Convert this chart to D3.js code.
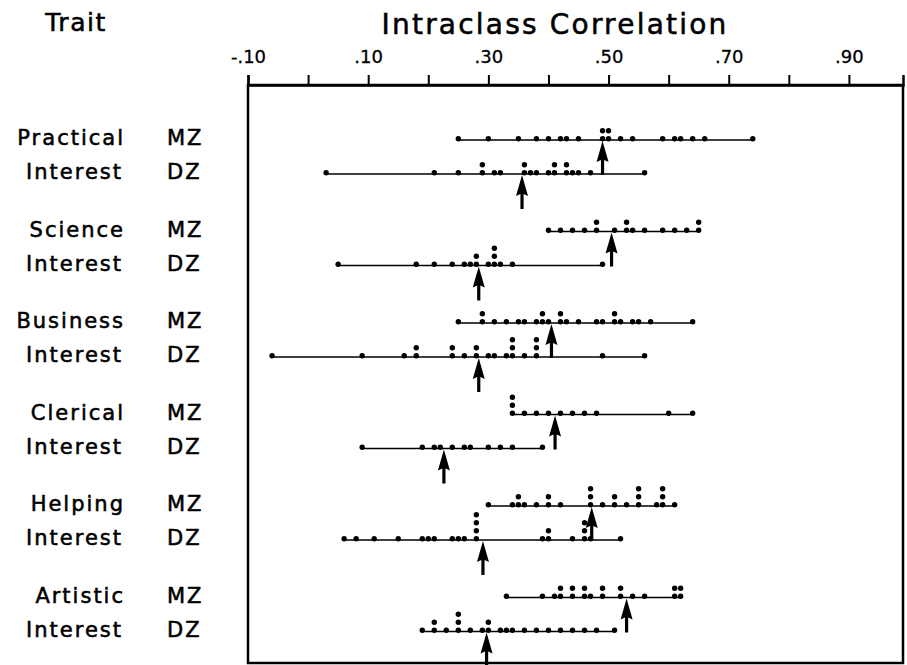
<!DOCTYPE html>
<html><head><meta charset="utf-8">
<script src="https://cdn.jsdelivr.net/npm/d3@7/dist/d3.min.js"></script>
<style>body{margin:0;background:#fff}svg{display:block}</style>
</head><body><svg id="c" width="907" height="665"></svg>
<script>
const traits = ["Practical", "Science", "Business", "Clerical", "Helping", "Artistic"];
const groups = ["MZ", "DZ"];
const tickValues = [-0.1, 0, 0.1, 0.2, 0.3, 0.4, 0.5, 0.6, 0.7, 0.8, 0.9];
const tickLabels = ["-.10", "", ".10", "", ".30", "", ".50", "", ".70", "", ".90"];

const mzValues = [
  [0.25, 0.30, 0.35, 0.38, 0.40, 0.42, 0.43, 0.45, 0.49, 0.49, 0.50, 0.50, 0.52, 0.54, 0.59, 0.61, 0.62, 0.64, 0.66, 0.74],
  [0.40, 0.42, 0.44, 0.46, 0.48, 0.48, 0.51, 0.53, 0.53, 0.54, 0.56, 0.59, 0.61, 0.63, 0.65, 0.65],
  [0.25, 0.29, 0.29, 0.31, 0.33, 0.35, 0.36, 0.38, 0.39, 0.39, 0.40, 0.42, 0.42, 0.43, 0.45, 0.48, 0.49, 0.51, 0.51, 0.52, 0.54, 0.55, 0.57, 0.64],
  [0.34, 0.34, 0.34, 0.36, 0.38, 0.40, 0.42, 0.44, 0.46, 0.48, 0.60, 0.64],
  [0.30, 0.34, 0.35, 0.35, 0.36, 0.38, 0.40, 0.40, 0.42, 0.47, 0.47, 0.47, 0.49, 0.51, 0.51, 0.53, 0.55, 0.55, 0.55, 0.58, 0.59, 0.59, 0.59, 0.61],
  [0.33, 0.39, 0.41, 0.42, 0.42, 0.44, 0.44, 0.46, 0.46, 0.47, 0.49, 0.49, 0.52, 0.52, 0.54, 0.56, 0.61, 0.61, 0.62, 0.62]
];
const dzValues = [
  [0.03, 0.21, 0.25, 0.29, 0.29, 0.31, 0.32, 0.36, 0.36, 0.37, 0.38, 0.40, 0.41, 0.41, 0.43, 0.43, 0.44, 0.45, 0.47, 0.56],
  [0.05, 0.18, 0.21, 0.24, 0.26, 0.27, 0.28, 0.28, 0.30, 0.31, 0.31, 0.31, 0.32, 0.34, 0.49],
  [-0.06, 0.09, 0.16, 0.18, 0.18, 0.24, 0.24, 0.26, 0.28, 0.28, 0.30, 0.31, 0.33, 0.34, 0.34, 0.34, 0.36, 0.38, 0.38, 0.38, 0.49, 0.56],
  [0.09, 0.19, 0.21, 0.22, 0.24, 0.26, 0.27, 0.30, 0.32, 0.34, 0.39],
  [0.06, 0.08, 0.11, 0.15, 0.19, 0.20, 0.21, 0.24, 0.25, 0.26, 0.28, 0.28, 0.28, 0.28, 0.39, 0.40, 0.40, 0.44, 0.46, 0.46, 0.46, 0.47, 0.52],
  [0.19, 0.21, 0.21, 0.23, 0.25, 0.25, 0.25, 0.27, 0.29, 0.30, 0.30, 0.32, 0.33, 0.34, 0.36, 0.38, 0.40, 0.42, 0.44, 0.46, 0.48, 0.51]
];
const mzArrows = [0.490, 0.505, 0.405, 0.411, 0.472, 0.530];
const dzArrows = [0.356, 0.284, 0.284, 0.226, 0.291, 0.297];

const svg = d3.select("#c");
const font = "'DejaVu Sans', sans-serif";
const x = d3.scaleLinear().domain([-0.1, 0.99]).range([248, 903]);
const yTrait = d3.scalePoint().domain(traits).range([140, 597.5]);
const yGroup = d3.scaleOrdinal().domain(groups).range([0, 34]);
const axisY = 85, frameBottom = 663;

function txt(sel, size, ls) {
  return sel.attr("font-family", font).attr("font-size", size).attr("letter-spacing", ls)
    .attr("fill", "#000").attr("stroke", "#000").attr("stroke-width", 0.55);
}

// frame
svg.append("rect").attr("x", x(-0.1)).attr("y", axisY)
  .attr("width", x(0.99) - x(-0.1)).attr("height", frameBottom - axisY)
  .attr("fill", "none").attr("stroke", "#000").attr("stroke-width", 2.5);

// axis
const axis = d3.axisTop(x).tickValues(tickValues).tickSize(10).tickSizeOuter(10)
  .tickFormat((d, i) => tickLabels[i]);
const ag = svg.append("g").attr("transform", `translate(0,${axisY})`).call(axis);
ag.select(".domain").attr("stroke-width", 2.5);
ag.selectAll(".tick line").attr("stroke-width", 2);
txt(ag.selectAll(".tick text"), 18, 0).attr("y", -22).attr("stroke-width", 0.3);

// titles
txt(svg.append("text").attr("x", 555).attr("y", 34).attr("text-anchor", "middle"), 28, 2.2)
  .text("Intraclass Correlation");
txt(svg.append("text").attr("x", 76).attr("y", 31).attr("text-anchor", "middle"), 25, 1.5)
  .text("Trait");

// rows
traits.forEach((t, i) => {
  const rows = [{g: "MZ", vals: mzValues[i], arrow: mzArrows[i]},
                {g: "DZ", vals: dzValues[i], arrow: dzArrows[i]}];
  rows.forEach(r => {
    const y0 = yTrait(t) + yGroup(r.g);
    const gg = svg.append("g");
    gg.append("line").attr("x1", x(d3.min(r.vals))).attr("x2", x(d3.max(r.vals)))
      .attr("y1", y0).attr("y2", y0).attr("stroke", "#000").attr("stroke-width", 1.7);
    const counts = {};
    const pts = r.vals.map(v => {
      const k = v.toFixed(2);
      counts[k] = (counts[k] || 0) + 1;
      return {v, level: counts[k] - 1};
    });
    gg.selectAll("circle").data(pts).join("circle")
      .attr("cx", d => x(d.v)).attr("cy", d => y0 - 1.2 - d.level * 8)
      .attr("r", 2.7).attr("fill", "#000");
    const ax = x(r.arrow), tip = y0 + 1;
    const path = d3.path();
    path.moveTo(ax, tip);
    path.lineTo(ax + 6, tip + 21);
    path.lineTo(ax + 1.6, tip + 19);
    path.lineTo(ax + 1.6, tip + 34);
    path.lineTo(ax - 1.6, tip + 34);
    path.lineTo(ax - 1.6, tip + 19);
    path.lineTo(ax - 6, tip + 21);
    path.closePath();
    gg.append("path").attr("d", path.toString()).attr("fill", "#000");
    txt(svg.append("text").attr("x", 167).attr("y", y0 + 5), 21, 2).text(r.g);
  });
  txt(svg.append("text").attr("x", 125).attr("y", yTrait(t) + 5).attr("text-anchor", "end"), 21, 2).text(t);
  txt(svg.append("text").attr("x", 123).attr("y", yTrait(t) + 39).attr("text-anchor", "end"), 21, 2).text("Interest");
});
</script></body></html>
